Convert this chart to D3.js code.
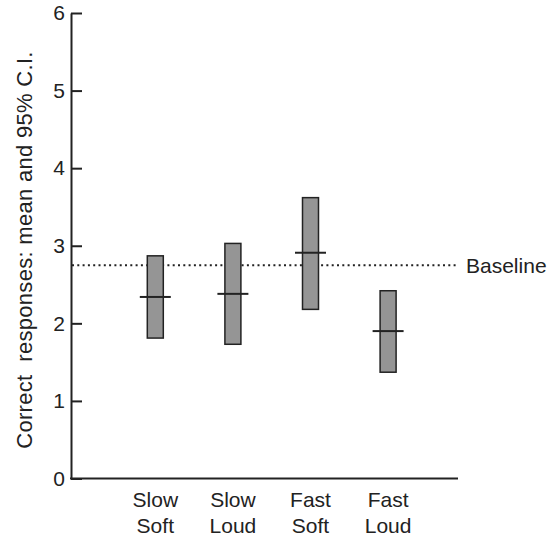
<!DOCTYPE html>
<html><head><meta charset="utf-8">
<script src="https://cdn.jsdelivr.net/npm/d3@7"></script>
<style>body{margin:0;background:#fff}svg{display:block}text{font-family:"Liberation Sans",Arial,Helvetica,sans-serif;fill:#222}</style>
</head><body>
<svg id="c" width="547" height="537"></svg>
<script>
const categories = [["Slow","Soft"],["Slow","Loud"],["Fast","Soft"],["Fast","Loud"]];
const means = [2.34, 2.38, 2.91, 1.90];
const lower = [1.81, 1.73, 2.18, 1.37];
const upper = [2.87, 3.03, 3.62, 2.42];
const baseline = 2.75;
const yTicks = [0,1,2,3,4,5,6];

const svg = d3.select("#c");
const ink = "#222";
const y = d3.scaleLinear().domain([0,6]).range([478.5,13]);
const x = d3.scaleBand().domain(categories.map((d,i)=>i)).range([116.5,426.9]).padding(0);
const cx = i => x(i) + x.bandwidth()/2;

// y axis
const ya = svg.append("g").attr("transform","translate(71,0)")
  .call(d3.axisLeft(y).tickValues(yTicks).tickSizeInner(-11).tickSizeOuter(0).tickPadding(6).tickFormat(d3.format("d")));
ya.select(".domain").attr("stroke",ink).attr("stroke-width",2);
ya.selectAll(".tick line").attr("stroke",ink).attr("stroke-width",2);
ya.selectAll(".tick text").attr("font-size",21).attr("fill",ink).style("font-family","'Liberation Sans',Arial,sans-serif");

// x axis line
svg.append("line").attr("x1",70).attr("x2",458).attr("y1",y(0)).attr("y2",y(0)).attr("stroke",ink).attr("stroke-width",2);

// category labels
categories.forEach((c,i)=>{
  const t = svg.append("text").attr("text-anchor","middle").attr("font-size",21).attr("x",cx(i)).attr("y",507);
  t.append("tspan").attr("x",cx(i)).attr("dy",0).text(c[0]);
  t.append("tspan").attr("x",cx(i)).attr("dy",26).text(c[1]);
});

// baseline
svg.append("line").attr("x1",72).attr("x2",458).attr("y1",y(baseline)).attr("y2",y(baseline))
  .attr("stroke",ink).attr("stroke-width",2).attr("stroke-dasharray","2,3.3");
svg.append("text").attr("x",466).attr("y",y(baseline)+7.5).attr("font-size",21).text("Baseline");

// bars
const idx = d3.range(categories.length);
svg.selectAll("rect.ci").data(idx).join("rect").attr("class","ci")
  .attr("x",i=>cx(i)-8).attr("width",16)
  .attr("y",i=>y(upper[i])).attr("height",i=>y(lower[i])-y(upper[i]))
  .attr("fill","#959595").attr("stroke",ink).attr("stroke-width",1.5);
svg.selectAll("line.mean").data(idx).join("line").attr("class","mean")
  .attr("x1",i=>cx(i)-15.5).attr("x2",i=>cx(i)+15.5)
  .attr("y1",i=>y(means[i])).attr("y2",i=>y(means[i]))
  .attr("stroke",ink).attr("stroke-width",2);

// y title
svg.append("text").attr("transform","translate(32,250) rotate(-90)").attr("text-anchor","middle")
  .attr("font-size",22).attr("letter-spacing",0.3).attr("xml:space","preserve").style("white-space","pre")
  .text("Correct  responses: mean and 95% C.I.");
</script>
</body></html>
